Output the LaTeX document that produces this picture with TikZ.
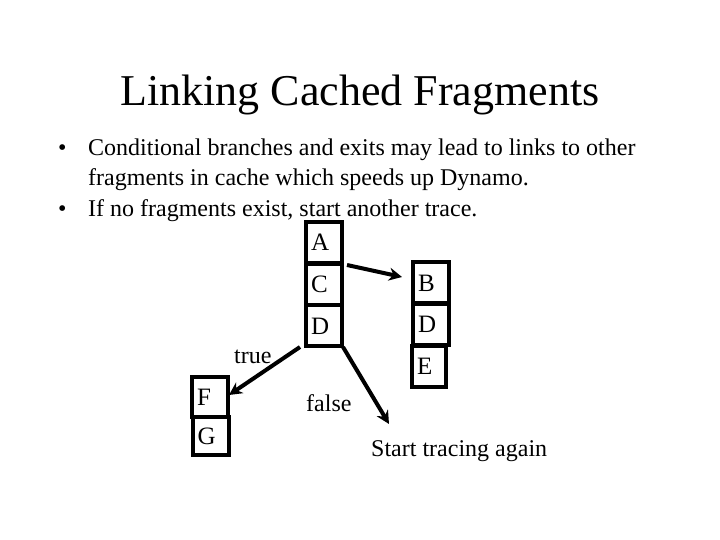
\documentclass[tikz,border=0pt]{standalone}
\usepackage{fontspec}
\setmainfont{Liberation Serif}
\usetikzlibrary{arrows.meta}
\begin{document}
\begin{tikzpicture}[x=1pt,y=-1pt,
  arr/.style={line width=4pt,-{Stealth[length=13pt,width=13pt]}},
  txt/.style={font=\fontsize{24}{28}\selectfont,inner sep=0pt},
  box/.style={draw,line width=4pt,minimum width=36pt,minimum height=41pt,inner sep=0pt,font=\fontsize{25}{28}\selectfont,text height=17pt,text depth=0pt,align=left,text width=26pt}]
\useasboundingbox (0,0) rectangle (720,540);
\node[font=\fontsize{44}{52}\selectfont] (title) at (360,95) {Linking Cached Fragments};
\node[txt,anchor=base west] (b1) at (58,156) {•};
\node[txt,anchor=base west] (l1) at (88,156) {Conditional branches and exits may lead to links to other};
\node[txt,anchor=base west] (l2) at (88,186) {fragments in cache which speeds up Dynamo.};
\node[txt,anchor=base west] (b2) at (58,216) {•};
\node[txt,anchor=base west] (l3) at (88,216) {If no fragments exist, start another trace.};
\node[box] (A) at (324,242.5) {A};
\node[box] (C) at (324,284) {C};
\node[box] (D1) at (324,325.5) {D};
\node[box] (B) at (431,282.5) {B};
\node[box] (D2) at (431,324) {D};
\node[box,minimum width=34pt,text width=24pt] (E) at (429,366) {E};
\node[box,minimum height=40pt] (F) at (210,397) {F};
\node[box,minimum height=38pt] (G) at (210.5,436) {G};
\coordinate (a1) at (347,265);
\coordinate (a2) at (402,277);
\draw[arr] (a1) -- (a2);
\coordinate (t1) at (300,347);
\coordinate (t2) at (229,395);
\draw[arr] (t1) -- (t2);
\coordinate (f1) at (343,347);
\coordinate (f2) at (389,424);
\draw[arr] (f1) -- (f2);
\node[txt,anchor=base west] (true) at (234,363) {true};
\node[txt,anchor=base west] (false) at (306,411) {false};
\node[txt,anchor=base west] (start) at (371,456) {Start tracing again};
\end{tikzpicture}
\end{document}
